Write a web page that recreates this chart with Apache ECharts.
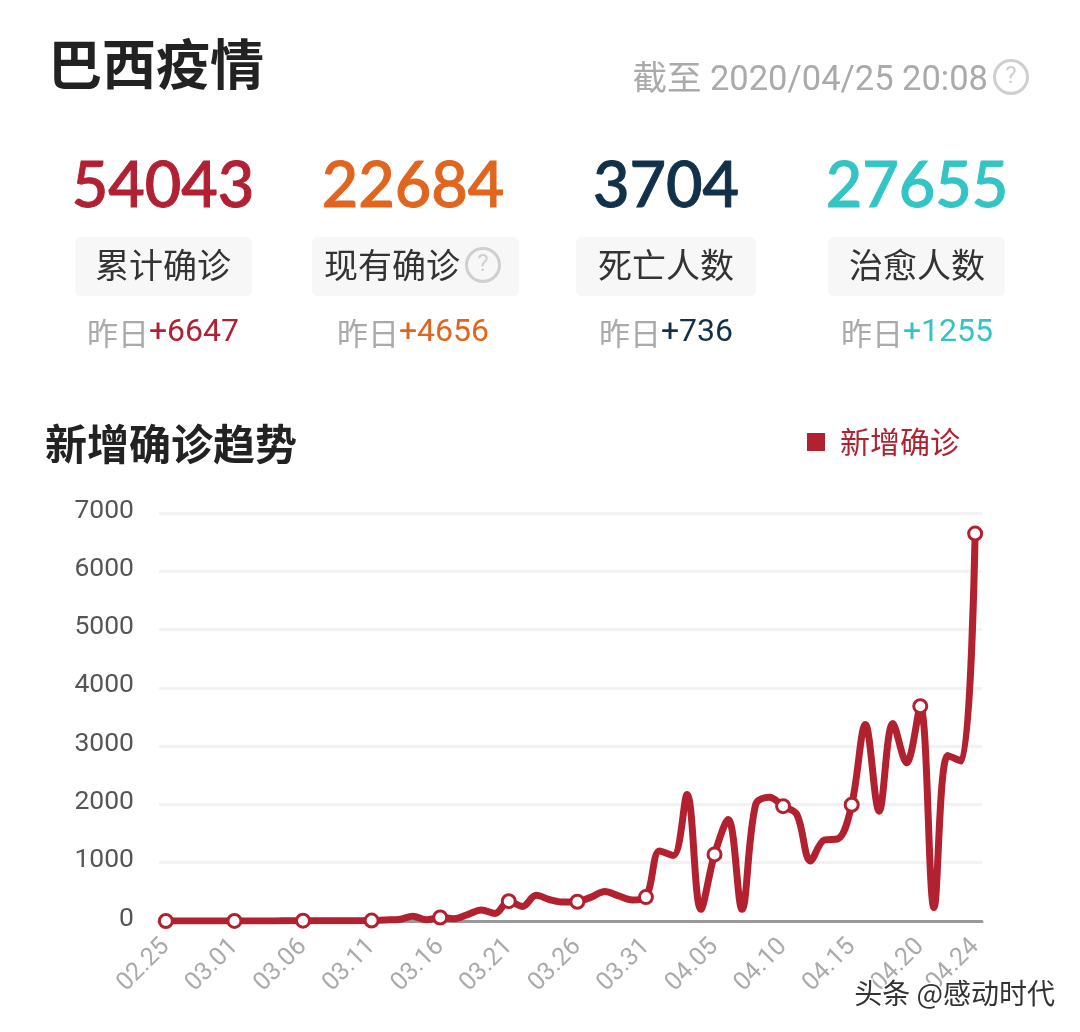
<!DOCTYPE html>
<html><head><meta charset="utf-8">
<style>html,body{margin:0;padding:0;background:#fff}#c{width:1080px;height:1032px}</style>
<script src="https://cdn.jsdelivr.net/npm/echarts@6/dist/echarts.min.js"></script>
</head><body><div id="c"></div>
<script>
const dates = ['02.25','02.26','02.27','02.28','02.29','03.01','03.02','03.03','03.04','03.05','03.06','03.07','03.08','03.09','03.10','03.11','03.12','03.13','03.14','03.15','03.16','03.17','03.18','03.19','03.20','03.21','03.22','03.23','03.24','03.25','03.26','03.27','03.28','03.29','03.30','03.31','04.01','04.02','04.03','04.04','04.05','04.06','04.07','04.08','04.09','04.10','04.11','04.12','04.13','04.14','04.15','04.16','04.17','04.18','04.19','04.20','04.21','04.22','04.23','04.24'];
const newConfirmed = [0,1,0,0,1,1,0,0,2,4,5,6,6,5,6,8,18,25,80,20,60,40,110,190,130,340,250,440,365,325,330,410,505,430,360,410,1200,1125,2170,200,1143,1743,200,2000,2125,1970,1830,1030,1390,1410,1994,3370,1885,3390,2714,3685,230,2840,2743,6647];
const yTicks = {min:0,max:7000,interval:1000};
const statLabels = ['累计确诊','现有确诊','死亡人数','治愈人数'];
const statValues = ['54043','22684','3704','27655'];
const statDeltas = ['+6647','+4656','+736','+1255'];
const statColors = ['#b22133','#e0651f','#123048','#35c4c4'];
const statCenters = [163,413,666,917];
const chipBoxes = [[75,177],[312,207],[576,180],[828,177]];
const labelCenters = [163,392,666,917];
const CJK = '"Noto Sans CJK SC","Noto Sans",sans-serif';
const NUM = 'Roboto,"Noto Sans",sans-serif';
const RED = '#b22130';

function qmark(cx,cy,r,fs){
  return [
    {type:'circle',shape:{cx,cy,r},style:{fill:'transparent',stroke:'#cfcfcf',lineWidth:3}},
    {type:'text',style:{x:cx,y:cy,text:'?',align:'center',verticalAlign:'middle',font:'400 '+fs+'px '+NUM,fill:'#cfcfcf'}}
  ];
}
const g = [];
g.push({type:'text',style:{x:48,y:64,text:'巴西疫情',verticalAlign:'middle',font:'700 54px '+CJK,fill:'#222'}});
g.push({type:'text',style:{x:988,y:81,text:'截至 2020/04/25 20:08',align:'right',verticalAlign:'middle',font:'400 34.5px '+NUM+','+CJK,fill:'#aaa'}});
g.push(...qmark(1011,77,16.5,24));
statValues.forEach((v,i)=>{
  g.push({type:'text',style:{x:statCenters[i],y:187,text:v,align:'center',verticalAlign:'middle',font:'500 63px Lato,'+NUM,fill:statColors[i],stroke:statColors[i],lineWidth:1}});
  g.push({type:'rect',shape:{x:chipBoxes[i][0],y:237,width:chipBoxes[i][1],height:59,r:6},style:{fill:'#f7f7f7'}});
  g.push({type:'text',style:{x:labelCenters[i],y:265,text:statLabels[i],align:'center',verticalAlign:'middle',font:'400 34px '+CJK,fill:'#333'}});
  g.push({type:'text',style:{x:statCenters[i],y:333,align:'center',verticalAlign:'middle',
    text:'{a|昨日}{b|'+statDeltas[i]+'}',
    rich:{a:{font:'400 31px '+CJK,fill:'#aaa'},b:{font:'400 32px '+NUM,fill:statColors[i]}}}});
});
g.push(...qmark(483,265,16.5,24));
g.push({type:'text',style:{x:45,y:444,text:'新增确诊趋势',verticalAlign:'middle',font:'700 42px '+CJK,fill:'#222'}});
g.push({type:'text',z:100,style:{x:1055,y:993,text:'头条 @感动时代',align:'right',verticalAlign:'middle',font:'400 28px '+CJK,fill:'#333',stroke:'#fff',lineWidth:3}});

const shown = i => i%5===0 || i===dates.length-1;
const chart = echarts.init(document.getElementById('c'),null,{renderer:'canvas'});
chart.setOption({
  animation:false,
  backgroundColor:'#fff',
  legend:{left:802,top:422,icon:'rect',itemWidth:18,itemHeight:18,itemGap:15,
    itemStyle:{color:RED,borderWidth:0},
    textStyle:{color:RED,fontSize:30,fontFamily:CJK,padding:[0,0,8,10]},data:['新增确诊']},
  grid:{left:159,right:98,top:513,bottom:111,containLabel:false},
  xAxis:{type:'category',data:dates,boundaryGap:true,
    axisLine:{lineStyle:{color:'#999',width:3}},axisTick:{show:false},
    axisLabel:{rotate:45,color:'#aaa',fontSize:25,fontFamily:NUM,margin:22,interval:(i)=>shown(i),hideOverlap:false}},
  yAxis:{type:'value',min:yTicks.min,max:yTicks.max,interval:yTicks.interval,
    axisLine:{show:false},axisTick:{show:false},
    axisLabel:{color:'#555',fontSize:26.5,fontFamily:NUM,margin:25,verticalAlign:'bottom',lineHeight:4,formatter:v=>String(v)},
    splitLine:{lineStyle:{color:'#f2f2f2',width:3}}},
  series:[{name:'新增确诊',type:'line',smooth:0.35,data:newConfirmed,showSymbol:true,showAllSymbol:true,
    symbol:'circle',symbolSize:(v,p)=>shown(p.dataIndex)?13:0,
    lineStyle:{color:RED,width:7},
    itemStyle:{color:'#fff',borderColor:RED,borderWidth:3}}],
  graphic:g
});
</script></body></html>
